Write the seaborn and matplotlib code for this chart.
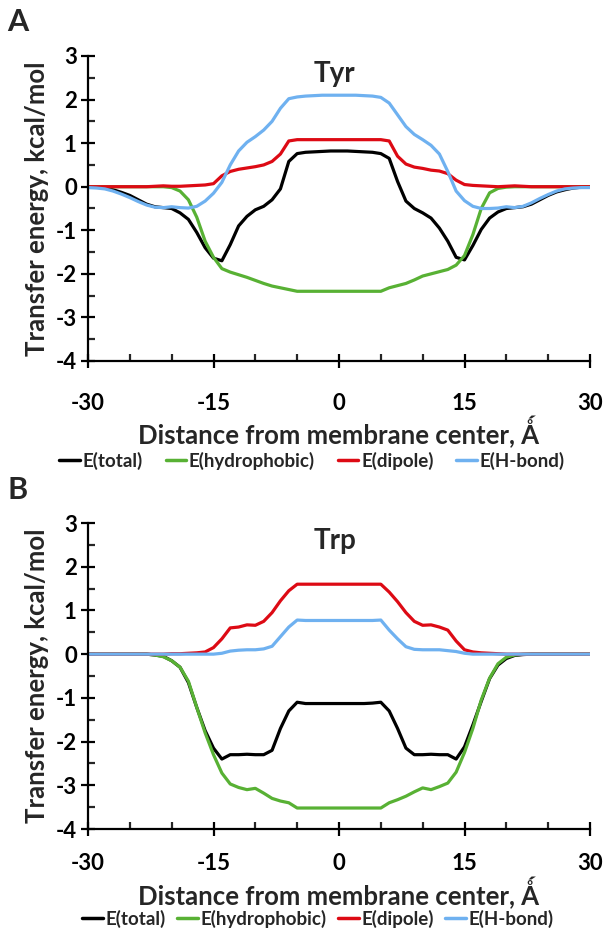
import numpy as np
import pandas as pd
import matplotlib
matplotlib.use("Agg")
import matplotlib.pyplot as plt
import seaborn as sns

# ---------------- data ----------------
distance = list(range(-30, 31))

series_names = ["E(total)", "E(hydrophobic)", "E(dipole)", "E(H-bond)"]
series_colors = ["#000000", "#58B134", "#DD0A14", "#6FB1F0"]

tyr_total = [0.00, -0.01, -0.03, -0.07, -0.13, -0.20, -0.30, -0.40, -0.46, -0.48,
             -0.50, -0.60, -0.75, -1.05, -1.40, -1.64, -1.70, -1.33, -0.90, -0.68,
             -0.53, -0.45, -0.30, -0.05, 0.58, 0.76, 0.79, 0.80, 0.81, 0.82,
             0.82,
             0.82, 0.81, 0.80, 0.79, 0.76, 0.65, 0.12, -0.33, -0.50, -0.60,
             -0.72, -0.95, -1.25, -1.62, -1.68, -1.35, -0.98, -0.72, -0.58, -0.50,
             -0.48, -0.46, -0.40, -0.30, -0.20, -0.12, -0.07, -0.03, -0.01, 0.00]
tyr_hydrophobic = [0.00, 0.00, 0.00, 0.00, 0.00, 0.00, 0.00, 0.00, 0.00, 0.00,
                   -0.02, -0.10, -0.30, -0.70, -1.25, -1.62, -1.88, -1.96, -2.02, -2.08,
                   -2.15, -2.22, -2.28, -2.32, -2.36, -2.40, -2.40, -2.40, -2.40, -2.40,
                   -2.40,
                   -2.40, -2.40, -2.40, -2.40, -2.40, -2.32, -2.27, -2.22, -2.14, -2.05,
                   -2.00, -1.95, -1.90, -1.80, -1.58, -1.10, -0.50, -0.14, -0.04, -0.01,
                   0.00, 0.00, 0.00, 0.00, 0.00, 0.00, 0.00, 0.00, 0.00, 0.00]
tyr_dipole = [0.00, 0.00, 0.00, 0.00, 0.00, 0.00, 0.00, 0.00, 0.01, 0.02,
              0.01, 0.01, 0.02, 0.03, 0.04, 0.07, 0.25, 0.35, 0.40, 0.43,
              0.46, 0.50, 0.58, 0.75, 1.05, 1.08, 1.08, 1.08, 1.08, 1.08,
              1.08,
              1.08, 1.08, 1.08, 1.08, 1.08, 1.05, 0.70, 0.52, 0.45, 0.42,
              0.38, 0.36, 0.30, 0.15, 0.05, 0.03, 0.02, 0.01, 0.00, 0.01,
              0.02, 0.01, 0.00, 0.00, 0.00, 0.00, 0.00, 0.00, 0.00, 0.00]
tyr_hbond = [-0.02, -0.03, -0.05, -0.10, -0.17, -0.25, -0.34, -0.42, -0.47, -0.48,
             -0.46, -0.48, -0.49, -0.45, -0.33, -0.15, 0.10, 0.50, 0.82, 1.02,
             1.15, 1.30, 1.50, 1.80, 2.02, 2.06, 2.08, 2.09, 2.10, 2.10,
             2.10,
             2.10, 2.10, 2.09, 2.08, 2.05, 1.92, 1.65, 1.38, 1.20, 1.08,
             0.95, 0.75, 0.35, -0.10, -0.32, -0.45, -0.50, -0.50, -0.49, -0.46,
             -0.48, -0.45, -0.37, -0.27, -0.18, -0.10, -0.05, -0.03, -0.02, -0.02]

trp_total = [0.00, 0.00, 0.00, 0.00, 0.00, 0.00, 0.00, 0.00, -0.02, -0.05,
             -0.15, -0.30, -0.65, -1.22, -1.75, -2.15, -2.40, -2.30, -2.30, -2.29,
             -2.30, -2.30, -2.20, -1.70, -1.30, -1.10, -1.13, -1.13, -1.13, -1.13,
             -1.13,
             -1.13, -1.13, -1.13, -1.12, -1.10, -1.30, -1.70, -2.15, -2.30, -2.30,
             -2.29, -2.30, -2.30, -2.40, -2.12, -1.62, -1.08, -0.56, -0.25, -0.10,
             -0.03, -0.01, 0.00, 0.00, 0.00, 0.00, 0.00, 0.00, 0.00, 0.00]
trp_hydrophobic = [0.00, 0.00, 0.00, 0.00, 0.00, 0.00, 0.00, 0.00, -0.02, -0.06,
                   -0.15, -0.30, -0.62, -1.22, -1.80, -2.30, -2.72, -2.97, -3.05, -3.10,
                   -3.07, -3.18, -3.30, -3.36, -3.40, -3.52, -3.52, -3.52, -3.52, -3.52,
                   -3.52,
                   -3.52, -3.52, -3.52, -3.52, -3.52, -3.40, -3.33, -3.25, -3.15, -3.06,
                   -3.10, -3.03, -2.95, -2.70, -2.25, -1.70, -1.05, -0.55, -0.22, -0.07,
                   -0.02, 0.00, 0.00, 0.00, 0.00, 0.00, 0.00, 0.00, 0.00, 0.00]
trp_dipole = [0.00, 0.00, 0.00, 0.00, 0.00, 0.00, 0.00, 0.00, 0.00, 0.00,
              0.01, 0.01, 0.02, 0.03, 0.05, 0.15, 0.35, 0.60, 0.62, 0.67,
              0.66, 0.75, 0.95, 1.22, 1.45, 1.60, 1.60, 1.60, 1.60, 1.60,
              1.60,
              1.60, 1.60, 1.60, 1.60, 1.60, 1.42, 1.20, 0.95, 0.75, 0.66,
              0.67, 0.62, 0.55, 0.30, 0.10, 0.05, 0.03, 0.02, 0.01, 0.00,
              0.00, 0.00, 0.00, 0.00, 0.00, 0.00, 0.00, 0.00, 0.00, 0.00]
trp_hbond = [0.00, 0.00, 0.00, 0.00, 0.00, 0.00, 0.00, 0.00, 0.00, 0.00,
             0.00, 0.00, 0.00, 0.00, 0.00, 0.00, 0.02, 0.07, 0.09, 0.10,
             0.10, 0.12, 0.18, 0.40, 0.62, 0.78, 0.77, 0.77, 0.77, 0.77,
             0.77,
             0.77, 0.77, 0.77, 0.77, 0.78, 0.55, 0.35, 0.17, 0.11, 0.10,
             0.10, 0.10, 0.08, 0.06, 0.02, 0.00, 0.00, 0.00, 0.00, 0.00,
             0.00, 0.00, 0.00, 0.00, 0.00, 0.00, 0.00, 0.00, 0.00, 0.00]

x_ticks = [-30, -15, 0, 15, 30]
y_ticks = [-4, -3, -2, -1, 0, 1, 2, 3]
panel_letters = ["A", "B"]
panel_titles = ["Tyr", "Trp"]
x_label = "Distance from membrane center, \u01FA"
y_label = "Transfer energy, kcal/mol"

# ---------------- style ----------------
sns.set_style("ticks")
plt.rcParams["font.family"] = ["Lato", "DejaVu Sans"]
plt.rcParams["font.weight"] = "bold"


def make_df(vals_list):
    frames = []
    for name, vals in zip(series_names, vals_list):
        frames.append(pd.DataFrame({"x": distance, "y": vals, "series": name}))
    return pd.concat(frames, ignore_index=True)


panels = [
    make_df([tyr_total, tyr_hydrophobic, tyr_dipole, tyr_hbond]),
    make_df([trp_total, trp_hydrophobic, trp_dipole, trp_hbond]),
]

fig = plt.figure(figsize=(6.06, 9.39), dpi=100)
axes_rects = [
    [88 / 606, 1 - 361 / 939, 502 / 606, 305 / 939],
    [88 / 606, 1 - 829 / 939, 502 / 606, 306 / 939],
]
letter_y = [1 - 22 / 939, 1 - 490 / 939]
tick_pads = [18, 12]
xlabel_pads = [1, 2]
legend_pos = [(312 / 606, 1 - 461 / 939), (318 / 606, 1 - 919 / 939)]
legend_colsp = [1.2, 0.6]

for i, df in enumerate(panels):
    ax = fig.add_axes(axes_rects[i])
    sns.lineplot(data=df, x="x", y="y", hue="series", hue_order=series_names,
                 palette=series_colors, linewidth=2.3, errorbar=None, ax=ax,
                 sort=True)
    for ln in ax.get_lines():
        ln.set_solid_joinstyle("round")
        ln.set_solid_capstyle("round")
    ax.set_xlim(-30, 30)
    ax.set_ylim(-4, 3)
    ax.set_xticks(x_ticks)
    ax.set_xticks(np.arange(-30, 31, 5), minor=True)
    ax.set_yticks(y_ticks)
    ax.set_yticks(np.arange(-4, 3.01, 0.5), minor=True)
    ax.set_xticklabels([str(v) for v in x_ticks])
    ax.set_yticklabels([str(v) for v in y_ticks])
    for s in ["top", "right"]:
        ax.spines[s].set_visible(False)
    for s in ["left", "bottom"]:
        ax.spines[s].set_linewidth(1.6)
        ax.spines[s].set_color("black")
    ax.tick_params(axis="x", which="major", direction="inout", length=10, width=1.6,
                   labelsize=16, pad=tick_pads[i], colors="black")
    ax.tick_params(axis="x", which="minor", direction="in", length=5, width=1.6)
    ax.tick_params(axis="y", which="major", direction="inout", length=10, width=1.6,
                   labelsize=16, pad=3, colors="black")
    ax.tick_params(axis="y", which="minor", direction="in", length=5, width=1.6)
    for lab in ax.get_xticklabels() + ax.get_yticklabels():
        lab.set_fontweight("bold")
    ax.set_xlabel(x_label, fontsize=18.5, fontweight="bold", labelpad=xlabel_pads[i])
    ax.set_ylabel(y_label, fontsize=18.5, fontweight="bold", labelpad=5)
    ax.text(-0.5, 2.58, panel_titles[i], fontsize=20, fontweight="bold",
            ha="center", va="center")
    fig.text(0.012, letter_y[i], panel_letters[i], fontsize=22, fontweight="bold",
             ha="left", va="center")
    sns.move_legend(ax, "center", bbox_to_anchor=legend_pos[i],
                    bbox_transform=fig.transFigure, ncol=4,
                    frameon=False, title=None, fontsize=13.5, handlelength=1.1,
                    handletextpad=0.15, columnspacing=legend_colsp[i],
                    borderaxespad=0, borderpad=0)
    for t in ax.get_legend().get_texts():
        t.set_fontweight("bold")
    for h in ax.get_legend().legend_handles:
        h.set_linewidth(2.5)

fig.savefig("out.png", dpi=100, facecolor="white")
